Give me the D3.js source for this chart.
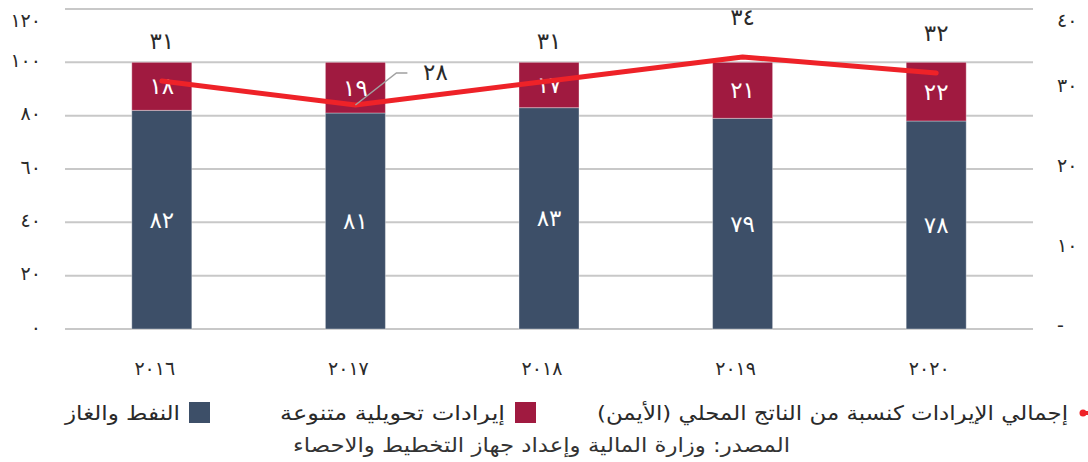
<!DOCTYPE html>
<html><head><meta charset="utf-8">
<script src="https://cdn.jsdelivr.net/npm/d3@7"></script>
<style>
html,body{margin:0;padding:0;background:#fff;}
svg{display:block;font-family:"DejaVu Sans",sans-serif;}
</style></head>
<body>
<script>
const years = ["2016","2017","2018","2019","2020"];
const oilGas = [82, 81, 83, 79, 78];
const diversified = [18, 19, 17, 21, 22];
const revenueToGdp = [31, 28, 31, 34, 32];
const leftTicks = [0, 20, 40, 60, 80, 100, 120];
const rightTicks = [0, 10, 20, 30, 40];
const rightTickLabels = ["-", "١٠", "٢٠", "٣٠", "٤٠"];
const legendLabels = ["إجمالي الإيرادات كنسبة من الناتج المحلي (الأيمن)", "إيرادات تحويلية متنوعة", "النفط والغاز"];
const sourceText = "المصدر: وزارة المالية وإعداد جهاز التخطيط والاحصاء";

const W = 1088, H = 462;
const colDark = "#3d4f68", colMaroon = "#a01a40", colRed = "#ee2228";
const textCol = "#2a2a2a";
const toAr = s => String(s).replace(/\d/g, d => "٠١٢٣٤٥٦٧٨٩"[+d]);

const svg = d3.select("body").append("svg").attr("width", W).attr("height", H);

const x = d3.scaleBand().domain(years).range([65, 1033]).paddingInner(0.69).paddingOuter(0.345);
const y = d3.scaleLinear().domain([0, 120]).range([329, 9]);
const yR = d3.scaleLinear().domain([0, 40]).range([329, 9]);

// gridlines
svg.append("g").selectAll("line").data(leftTicks).join("line")
  .attr("x1", 65).attr("x2", 1033)
  .attr("y1", d => y(d)).attr("y2", d => y(d))
  .attr("stroke", "#c8c8c8").attr("stroke-width", 2);

const styleAxisText = g => g.selectAll("text").attr("font-size", 19).attr("fill", textCol)
  .attr("font-family", "DejaVu Sans").attr("dy", null).attr("dominant-baseline", "central");

// left axis labels
const axL = d3.axisLeft(y).tickValues(leftTicks).tickSize(0).tickFormat(d => toAr(d));
svg.append("g").attr("transform", "translate(44,-3)").call(axL)
  .call(g => g.select(".domain").remove())
  .call(styleAxisText)
  .call(g => g.selectAll("text").attr("y", d => d === 120 ? 13 : 0));

// right axis labels
const axR = d3.axisRight(yR).tickValues(rightTicks).tickSize(0).tickFormat((d, i) => rightTickLabels[i]);
svg.append("g").attr("transform", "translate(1054,-5)").call(axR)
  .call(g => g.select(".domain").remove())
  .call(styleAxisText)
  .call(g => g.selectAll("text").attr("y", d => d === 40 ? 15 : 0));

// x axis labels
const axB = d3.axisBottom(x).tickSize(0).tickFormat(d => toAr(d));
svg.append("g").attr("transform", "translate(-7,368)").call(axB)
  .call(g => g.select(".domain").remove())
  .call(styleAxisText)
  .call(g => g.selectAll("text").attr("y", 0));

// stacked bars
const bars = svg.append("g");
years.forEach((yr, i) => {
  const x0 = x(yr), bw = x.bandwidth();
  bars.append("rect").attr("x", x0).attr("width", bw)
    .attr("y", y(oilGas[i])).attr("height", y(0) - y(oilGas[i]))
    .attr("fill", colDark).attr("stroke", "#ffffff").attr("stroke-opacity", 0.35).attr("stroke-width", 1);
  bars.append("rect").attr("x", x0).attr("width", bw)
    .attr("y", y(oilGas[i] + diversified[i])).attr("height", y(oilGas[i]) - y(oilGas[i] + diversified[i]))
    .attr("fill", colMaroon).attr("stroke", "#ffffff").attr("stroke-opacity", 0.35).attr("stroke-width", 1);
  bars.append("text").attr("x", x0 + bw / 2).attr("y", (y(0) + y(oilGas[i])) / 2)
    .attr("text-anchor", "middle").attr("dominant-baseline", "central")
    .attr("font-size", 23).attr("fill", "#fff").text(toAr(oilGas[i]));
  bars.append("text").attr("x", x0 + bw / 2).attr("y", (y(oilGas[i]) + y(oilGas[i] + diversified[i])) / 2)
    .attr("text-anchor", "middle").attr("dominant-baseline", "central")
    .attr("font-size", 23).attr("fill", "#fff").text(toAr(diversified[i]));
});

// line
const cx = d => x(d) + x.bandwidth() / 2;
const line = d3.line().x((d, i) => cx(years[i])).y(d => yR(d));
svg.append("path").datum(revenueToGdp).attr("d", line)
  .attr("fill", "none").attr("stroke", colRed).attr("stroke-width", 5)
  .attr("stroke-linejoin", "round").attr("stroke-linecap", "round");

// line labels
const minIdx = d3.minIndex(revenueToGdp);
revenueToGdp.forEach((v, i) => {
  const px = cx(years[i]), py = yR(v);
  if (i === minIdx) {
    svg.append("polyline")
      .attr("points", `${px},${py} ${px + 41},${py - 32} ${px + 52},${py - 32}`)
      .attr("fill", "none").attr("stroke", "#a0a0a0").attr("stroke-width", 1.5);
    svg.append("text").attr("x", px + 80).attr("y", py - 33)
      .attr("text-anchor", "middle").attr("dominant-baseline", "central")
      .attr("font-size", 23).attr("fill", textCol).text(toAr(v));
  } else {
    const ly = Math.max(py - 40, 13);
    svg.append("text").attr("x", px).attr("y", ly)
      .attr("text-anchor", "middle").attr("dominant-baseline", "central")
      .attr("font-size", 23).attr("fill", textCol).text(toAr(v));
  }
});

// legend
const lg = svg.append("g").attr("font-size", 20).attr("fill", textCol);
lg.append("line").attr("x1", 1080).attr("x2", 1100).attr("y1", 413).attr("y2", 413)
  .attr("stroke", colRed).attr("stroke-width", 4);
lg.append("circle").attr("cx", 1083).attr("cy", 413).attr("r", 3.5).attr("fill", colRed);
const legendText = (xr, txt, len) => lg.append("text").attr("x", xr).attr("y", 413)
  .attr("direction", "rtl").attr("text-anchor", "start")
  .attr("dominant-baseline", "central").attr("textLength", len).attr("lengthAdjust", "spacingAndGlyphs").text(txt);
legendText(1068, legendLabels[0], 471);
lg.append("rect").attr("x", 515).attr("y", 402).attr("width", 21).attr("height", 21).attr("fill", colMaroon);
legendText(505, legendLabels[1], 225);
lg.append("rect").attr("x", 189).attr("y", 402).attr("width", 21).attr("height", 21).attr("fill", colDark);
legendText(180, legendLabels[2], 115);

svg.append("text").attr("x", 790).attr("y", 445).attr("direction", "rtl").attr("text-anchor", "start")
  .attr("dominant-baseline", "central").attr("font-size", 20).attr("fill", "#333")
  .attr("textLength", 497).attr("lengthAdjust", "spacingAndGlyphs").text(sourceText);
</script>
</body></html>
